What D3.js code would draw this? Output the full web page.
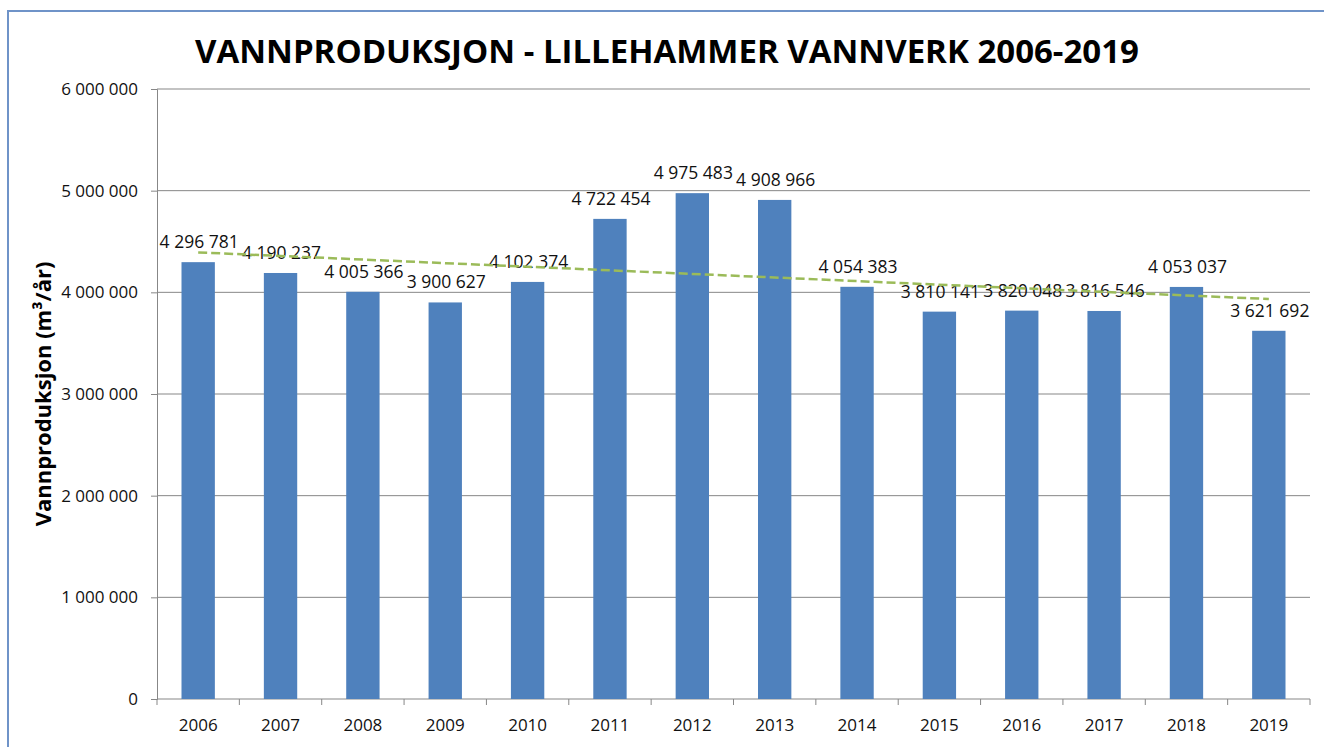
<!DOCTYPE html>
<html>
<head>
<meta charset="utf-8">
<title>Vannproduksjon</title>
<script src="https://d3js.org/d3.v7.min.js"></script>
<style>
  body { margin: 0; background: #fff; }
  text { font-family: "Open Sans", sans-serif; }
</style>
</head>
<body>
<script>
  // data
  var years  = ["2006","2007","2008","2009","2010","2011","2012","2013","2014","2015","2016","2017","2018","2019"];
  var values = [4296781, 4190237, 4005366, 3900627, 4102374, 4722454, 4975483, 4908966, 4054383, 3810141, 3820048, 3816546, 4053037, 3621692];
  var yTicks = [0, 1000000, 2000000, 3000000, 4000000, 5000000, 6000000];
  // linear trendline, value at first and last category
  var trendEnds = [4393000, 3934000];

  var title  = "VANNPRODUKSJON - LILLEHAMMER VANNVERK 2006-2019";
  var yTitle = "Vannproduksjon (m³/år)";

  var width = 1324, height = 747;
  var plot = { left: 157, right: 1310, top: 89, bottom: 699 };

  var fmt = function(v){ return d3.format(",")(v).replace(/,/g, "\u00a0"); };

  var svg = d3.select("body").append("svg")
      .attr("width", width)
      .attr("height", height);

  // outer chart border (cut off at right and bottom)
  svg.append("rect")
      .attr("x", 8).attr("y", 11)
      .attr("width", width + 20).attr("height", height + 20)
      .attr("fill", "#fff")
      .attr("stroke", "#6f93c8").attr("stroke-width", 2);

  var x = d3.scaleBand()
      .domain(years)
      .range([plot.left, plot.right])
      .paddingInner(0.595)
      .paddingOuter(0.2975);

  var y = d3.scaleLinear()
      .domain([0, 6000000])
      .range([plot.bottom, plot.top]);

  // gridlines
  svg.append("g").selectAll("line")
      .data(yTicks.filter(d => d > 0))
      .join("line")
      .attr("x1", plot.left).attr("x2", plot.right)
      .attr("y1", d => y(d)).attr("y2", d => y(d))
      .attr("stroke", "#878787").attr("stroke-width", 1);

  // y axis
  var yAxis = svg.append("g")
      .attr("transform", "translate(" + plot.left + ",0)")
      .call(d3.axisLeft(y).tickValues(yTicks).tickFormat(fmt).tickSize(6).tickPadding(13));
  yAxis.select(".domain").attr("stroke", "#878787");
  yAxis.selectAll(".tick line").attr("stroke", "#878787");
  yAxis.selectAll("text")
      .attr("font-family", "Open Sans, sans-serif")
      .attr("font-size", 17).attr("fill", "#111");

  // x axis, ticks between categories
  var xAxis = svg.append("g")
      .attr("transform", "translate(0," + plot.bottom + ")");
  xAxis.append("line")
      .attr("x1", plot.left).attr("x2", plot.right)
      .attr("stroke", "#878787");
  var step = x.step();
  xAxis.selectAll(".tk")
      .data(d3.range(years.length + 1))
      .join("line")
      .attr("class", "tk")
      .attr("x1", i => plot.left + i * step).attr("x2", i => plot.left + i * step)
      .attr("y1", 0).attr("y2", 6)
      .attr("stroke", "#878787");
  xAxis.selectAll("text")
      .data(years)
      .join("text")
      .attr("x", d => x(d) + x.bandwidth() / 2)
      .attr("y", 32)
      .attr("text-anchor", "middle")
      .attr("font-size", 17).attr("fill", "#111")
      .text(d => d);

  // bars
  svg.append("g").selectAll("rect")
      .data(values)
      .join("rect")
      .attr("x", (d, i) => x(years[i]))
      .attr("y", d => y(d))
      .attr("width", x.bandwidth())
      .attr("height", d => y(0) - y(d))
      .attr("fill", "#4f81bd");

  // data labels
  svg.append("g").selectAll("text")
      .data(values)
      .join("text")
      .attr("x", (d, i) => x(years[i]) + x.bandwidth() / 2 + 1)
      .attr("y", d => y(d) - 14)
      .attr("text-anchor", "middle")
      .attr("font-size", 17.5).attr("fill", "#111")
      .text(d => fmt(d));

  // trendline
  var c0 = x(years[0]) + x.bandwidth() / 2;
  var c1 = x(years[years.length - 1]) + x.bandwidth() / 2;
  svg.append("line")
      .attr("x1", c0).attr("y1", y(trendEnds[0]))
      .attr("x2", c1).attr("y2", y(trendEnds[1]))
      .attr("stroke", "#9bbb59").attr("stroke-width", 2.5)
      .attr("stroke-dasharray", "9,4");

  // titles
  svg.append("text")
      .attr("x", 667).attr("y", 63)
      .attr("text-anchor", "middle")
      .attr("font-size", 33).attr("font-weight", "bold")
      .attr("fill", "#000")
      .text(title);

  svg.append("text")
      .attr("transform", "translate(51," + ((plot.top + plot.bottom) / 2) + ") rotate(-90)")
      .attr("text-anchor", "middle")
      .attr("font-size", 22).attr("font-weight", "bold")
      .attr("fill", "#000")
      .text(yTitle);
</script>
</body>
</html>
